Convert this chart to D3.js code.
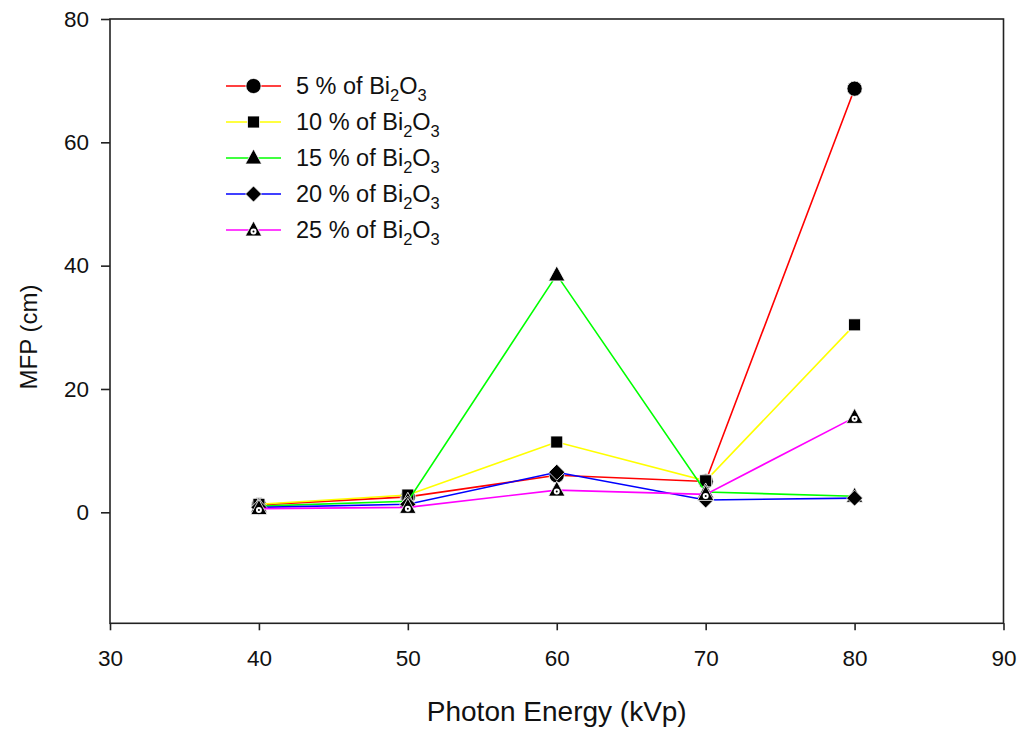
<!DOCTYPE html>
<html>
<head>
<meta charset="utf-8">
<script src="https://cdn.jsdelivr.net/npm/d3@7"></script>
<style>
  html, body { margin: 0; padding: 0; background: #fff; }
  svg { display: block; font-family: "Liberation Sans", Arial, sans-serif; }
</style>
</head>
<body>
<svg id="chart" width="1021" height="731"></svg>
<script>
// Photon energy (kVp)
const energies = [40, 50, 60, 70, 80];

// Mean free path (cm) for each Bi2O3 content
const mfp5  = [1.2, 2.5, 6.0, 5.0, 68.7];
const mfp10 = [1.3, 2.8, 11.4, 5.1, 30.4];
const mfp15 = [1.0, 1.8, 38.5, 3.3, 2.6];
const mfp20 = [0.8, 1.3, 6.5, 2.0, 2.3];
const mfp25 = [0.6, 0.8, 3.6, 2.9, 15.4];

const seriesNames = ["5", "10", "15", "20", "25"];
const seriesColors = ["#ff0000", "#ffff00", "#00ff00", "#0000ff", "#ff00ff"];
const seriesMarkers = ["circle", "square", "triangle", "diamond", "triangleDot"];

const xTicks = [30, 40, 50, 60, 70, 80, 90];
const yTicks = [0, 20, 40, 60, 80];

const series = [mfp5, mfp10, mfp15, mfp20, mfp25].map((vals, i) => ({
  name: seriesNames[i], color: seriesColors[i], marker: seriesMarkers[i],
  points: energies.map((e, j) => ({ x: e, y: vals[j] }))
}));

const svg = d3.select("#chart");
const plotLeft = 110, plotRight = 1003.5, plotTop = 19, plotBottom = 623.3;

const x = d3.scaleLinear().domain([30, 90]).range([plotLeft, plotRight]);
const y = d3.scaleLinear().domain([-18, 80]).range([plotBottom, plotTop]);

// frame
svg.append("rect")
  .attr("x", plotLeft).attr("y", plotTop)
  .attr("width", plotRight - plotLeft).attr("height", plotBottom - plotTop)
  .attr("fill", "none").attr("stroke", "#222").attr("stroke-width", 1.6);

// axes
const xAxis = svg.append("g").attr("transform", `translate(0,${plotBottom})`)
  .call(d3.axisBottom(x).tickValues(xTicks).tickSize(7).tickPadding(20));
const yAxis = svg.append("g").attr("transform", `translate(${plotLeft},0)`)
  .call(d3.axisLeft(y).tickValues(yTicks).tickSize(9).tickPadding(12));
[xAxis, yAxis].forEach(g => {
  g.select(".domain").remove();
  g.selectAll("line").attr("stroke", "#222").attr("stroke-width", 1.6);
  g.selectAll("text").attr("fill", "#111").style("font-size", "22.5px")
    .style("font-family", "'Liberation Sans', Arial, sans-serif");
});

// axis titles
svg.append("text").attr("x", (plotLeft + plotRight) / 2).attr("y", 721)
  .attr("text-anchor", "middle").style("font-size", "28px").attr("fill", "#111")
  .text("Photon Energy (kVp)");
svg.append("text")
  .attr("transform", `translate(37,337) rotate(-90)`)
  .attr("text-anchor", "middle").style("font-size", "24px").attr("fill", "#111")
  .text("MFP (cm)");

// marker drawing
function drawMarker(g, type, cx, cy) {
  const m = g.append("g").attr("transform", `translate(${cx},${cy})`);
  if (type === "circle") {
    m.append("circle").attr("r", 7.6).attr("fill", "#000").attr("stroke", "#fff").attr("stroke-width", 0.8);
  } else if (type === "square") {
    m.append("rect").attr("x", -6).attr("y", -6).attr("width", 12).attr("height", 12)
      .attr("fill", "#000").attr("stroke", "#fff").attr("stroke-width", 0.8);
  } else if (type === "triangle") {
    m.append("path").attr("d", "M0,-9L8.2,6L-8.2,6Z")
      .attr("fill", "#000").attr("stroke", "#fff").attr("stroke-width", 0.8);
  } else if (type === "diamond") {
    m.append("path").attr("d", "M0,-8L8,0L0,8L-8,0Z")
      .attr("fill", "#000").attr("stroke", "#fff").attr("stroke-width", 0.8);
  } else if (type === "triangleDot") {
    m.append("path").attr("d", "M0,-9L8.2,6L-8.2,6Z")
      .attr("fill", "#000").attr("stroke", "#fff").attr("stroke-width", 0.8);
    m.append("circle").attr("cy", 1.5).attr("r", 3).attr("fill", "#fff");
    m.append("circle").attr("cy", 1.5).attr("r", 1).attr("fill", "#000");
  }
}

const line = d3.line().x(d => x(d.x)).y(d => y(d.y));
const plot = svg.append("g");

series.forEach(s => {
  const g = plot.append("g");
  g.append("path").datum(s.points).attr("d", line)
    .attr("fill", "none").attr("stroke", s.color).attr("stroke-width", 1.6);
  s.points.forEach(p => drawMarker(g, s.marker, x(p.x), y(p.y)));
});

// legend
const legend = svg.append("g");
series.forEach((s, i) => {
  const ly = 86 + i * 36;
  legend.append("line").attr("x1", 226).attr("x2", 281).attr("y1", ly).attr("y2", ly)
    .attr("stroke", s.color).attr("stroke-width", 1.6);
  drawMarker(legend, s.marker, 253.5, ly);
  const t = legend.append("text").attr("x", 296).attr("y", ly + 8)
    .style("font-size", "23.5px").attr("fill", "#111");
  t.append("tspan").text(`${s.name} % of Bi`);
  t.append("tspan").attr("dy", 7).style("font-size", "16.5px").text("2");
  t.append("tspan").attr("dy", -7).text("O");
  t.append("tspan").attr("dy", 7).style("font-size", "16.5px").text("3");
});
</script>
</body>
</html>
